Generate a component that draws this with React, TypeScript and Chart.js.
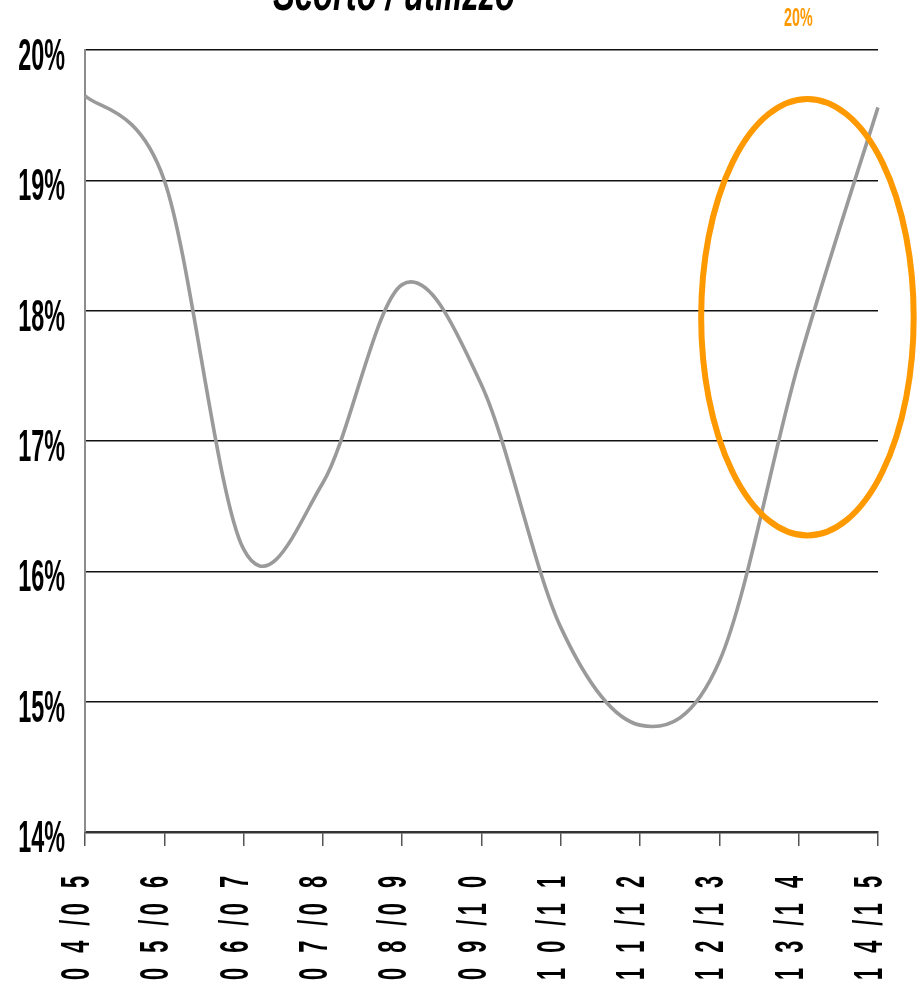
import React, { useEffect, useRef } from "react";
import { Chart, registerables } from "chart.js";

Chart.register(...registerables);

const categories = [
  "0 4 /0 5",
  "0 5 /0 6",
  "0 6 /0 7",
  "0 7 /0 8",
  "0 8 /0 9",
  "0 9 /1 0",
  "1 0 /1 1",
  "1 1 /1 2",
  "1 2 /1 3",
  "1 3 /1 4",
  "1 4 /1 5",
];
const ratioValues = [19.65, 19.0, 16.17, 16.68, 18.2, 17.43, 15.57, 14.82, 15.31, 17.6, 19.56];
const yTickValues = [14, 15, 16, 17, 18, 19, 20];
const titleText = "Scorto / utilizzo";
const highlightText = "20%";

// highlight ellipse in data coordinates
const ellipseCenterIndex = 9.11;
const ellipseCenterValue = 17.95;
const ellipseHalfWidth = 1.34; // in categories
const ellipseHalfHeight = 1.675; // in percent

const FONT = '"Liberation Sans", Arial, sans-serif';
const ORANGE = "#ff9900";
const SMOOTHING = 1 / 6; // uniform Catmull-Rom style smoothing (spreadsheet-like)

function drawScaledText(
  ctx: CanvasRenderingContext2D,
  text: string,
  x: number,
  y: number,
  sx: number,
  align: CanvasTextAlign
) {
  ctx.save();
  ctx.translate(x, y);
  ctx.scale(sx, 1);
  ctx.textAlign = align;
  ctx.textBaseline = "alphabetic";
  ctx.fillText(text, 0, 0);
  ctx.restore();
}

const smoothPlugin = {
  id: "uniformSmooth",
  beforeDatasetDraw(chart: any, args: any) {
    const meta = args.meta;
    const line = meta.dataset;
    const pts = meta.data;
    const n = pts.length;
    if (!line || n < 2) return;
    for (let i = 0; i < n; i++) {
      const p = pts[i];
      const prev = pts[Math.max(0, i - 1)];
      const next = pts[Math.min(n - 1, i + 1)];
      const dx = (next.x - prev.x) * SMOOTHING;
      const dy = (next.y - prev.y) * SMOOTHING;
      p.cp1x = p.x - dx;
      p.cp1y = p.y - dy;
      p.cp2x = p.x + dx;
      p.cp2y = p.y + dy;
    }
    line._pointsUpdated = true;
    line._path = undefined;
  },
};

const decorPlugin = {
  id: "decor",
  afterDraw(chart: any) {
    const ctx: CanvasRenderingContext2D = chart.ctx;
    const xs = chart.scales.x;
    const ys = chart.scales.y;

    // y tick labels
    ctx.save();
    ctx.fillStyle = "#000";
    ctx.font = `bold 45px ${FONT}`;
    for (const v of yTickValues) {
      const py = ys.getPixelForValue(v);
      drawScaledText(ctx, `${v}%`, 65, py + 20, 0.52, "right");
    }
    ctx.restore();

    // x tick labels (rotated, spaced)
    ctx.save();
    ctx.fillStyle = "#000";
    ctx.font = `bold 41px ${FONT}`;
    const sx = 0.53;
    const ls = 4.5;
    categories.forEach((label, i) => {
      const px = xs.getPixelForValue(i);
      const chars = label.split("");
      const widths = chars.map((c) => ctx.measureText(c).width * sx);
      const total = widths.reduce((a, b) => a + b, 0) + ls * (chars.length - 1);
      ctx.save();
      ctx.translate(px + 4, 876);
      ctx.rotate(-Math.PI / 2);
      let cursor = -total;
      chars.forEach((c, k) => {
        if (c !== " ") {
          ctx.save();
          ctx.translate(cursor, 0);
          ctx.scale(sx, 1);
          ctx.textAlign = "left";
          ctx.textBaseline = "alphabetic";
          ctx.fillText(c, 0, 0);
          ctx.restore();
        }
        cursor += widths[k] + ls;
      });
      ctx.restore();
    });
    ctx.restore();

    // title (clipped at the top)
    ctx.save();
    ctx.fillStyle = "#000";
    ctx.font = `italic bold 52px ${FONT}`;
    const tw = ctx.measureText(titleText).width;
    const tsx = 242 / tw;
    drawScaledText(ctx, titleText, 273, 10, tsx, "left");
    ctx.restore();

    // orange label
    ctx.save();
    ctx.fillStyle = ORANGE;
    ctx.font = `bold 26px ${FONT}`;
    drawScaledText(ctx, highlightText, 784, 26, 0.55, "left");
    ctx.restore();

    // highlight ellipse
    const cx = xs.getPixelForValue(ellipseCenterIndex);
    const cy = ys.getPixelForValue(ellipseCenterValue);
    const rx = Math.abs(xs.getPixelForValue(ellipseCenterIndex + ellipseHalfWidth) - cx);
    const ry = Math.abs(ys.getPixelForValue(ellipseCenterValue + ellipseHalfHeight) - cy);
    ctx.save();
    ctx.strokeStyle = ORANGE;
    ctx.lineWidth = 6;
    ctx.beginPath();
    ctx.ellipse(cx, cy, rx, ry, 0, 0, Math.PI * 2);
    ctx.stroke();
    ctx.restore();
  },
};

export default function App() {
  const canvasRef = useRef<HTMLCanvasElement | null>(null);

  useEffect(() => {
    const canvas = canvasRef.current;
    if (!canvas) return;
    const chart = new Chart(canvas, {
      type: "line",
      data: {
        labels: categories,
        datasets: [
          {
            data: ratioValues,
            borderColor: "#9a9a9a",
            borderWidth: 3.6,
            pointRadius: 0,
            tension: 0.35,
            fill: false,
          },
        ],
      },
      options: {
        responsive: false,
        animation: false,
        events: [],
        layout: {
          autoPadding: false,
          padding: { left: 0, top: 50, right: 39, bottom: 0 },
        },
        plugins: {
          legend: { display: false },
          tooltip: { enabled: false },
          title: { display: false },
        },
        scales: {
          x: {
            type: "category",
            offset: false,
            ticks: { display: false },
            grid: {
              drawOnChartArea: false,
              drawTicks: true,
              tickLength: 14,
              color: "#555",
              lineWidth: 1.5,
            },
            border: { display: true, color: "#333", width: 2.5 },
            afterFit: (scale: any) => {
              scale.height = 161;
            },
          },
          y: {
            min: 14,
            max: 20,
            ticks: { display: false, stepSize: 1 },
            grid: {
              drawTicks: false,
              color: "#111",
              lineWidth: 1.5,
            },
            border: { display: true, color: "#8c8c8c", width: 2 },
            afterFit: (scale: any) => {
              scale.width = 85;
            },
          },
        },
      },
      plugins: [smoothPlugin, decorPlugin],
    });
    return () => chart.destroy();
  }, []);

  return (
    <div style={{ position: "fixed", left: 0, top: 0, width: 917, height: 993, background: "#fff" }}>
      <canvas ref={canvasRef} width={917} height={993} style={{ display: "block" }} />
    </div>
  );
}
